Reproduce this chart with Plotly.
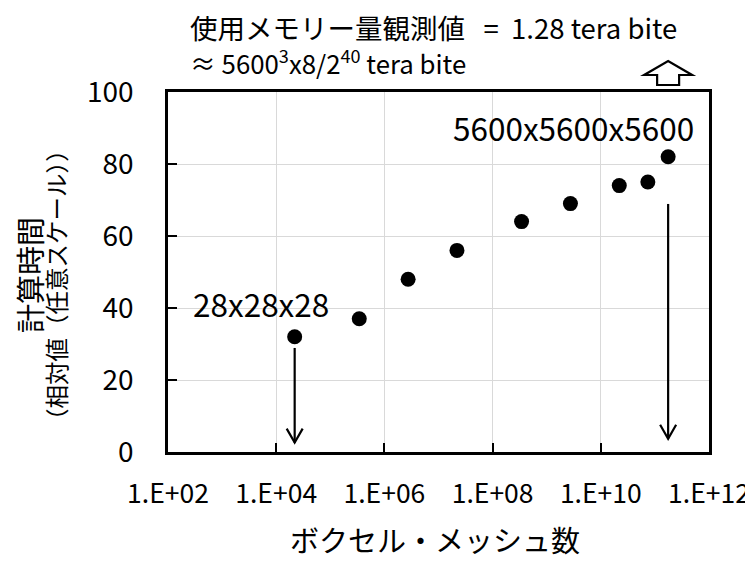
import math
import plotly.graph_objects as go

# ---- data ----
voxel_counts = [21952, 343000, 2744000, 21952000, 343000000,
                2744000000, 21952000000, 74088000000, 175616000000]
calc_time = [32, 37, 48, 56, 64, 69, 74, 75, 82]

x_tickvals = [1e2, 1e4, 1e6, 1e8, 1e10, 1e12]
x_ticktext = ["1.E+02", "1.E+04", "1.E+06", "1.E+08", "1.E+10", "1.E+12"]
y_tickvals = [0, 20, 40, 60, 80, 100]

label_small = "28x28x28"
label_large = "5600x5600x5600"

arrow_x = [21952, 175616000000]
arrow_y_start = [28.9, 68.9]
arrow_y_end = [2.6, 3.7]

FONT = "Noto Sans CJK JP"

fig = go.Figure()
fig.add_trace(go.Scatter(
    x=voxel_counts, y=calc_time, mode="markers",
    marker=dict(size=15, color="black"),
    showlegend=False, hoverinfo="skip", cliponaxis=False))

shapes = []
for ax_, y0, y1 in zip(arrow_x, arrow_y_start, arrow_y_end):
    shapes.append(dict(type="line", xref="x", yref="y", x0=ax_, x1=ax_,
                       y0=y0, y1=y1, line=dict(color="black", width=2.2)))
    shapes.append(dict(type="path", xref="x", yref="y",
                       xsizemode="pixel", ysizemode="pixel",
                       xanchor=ax_, yanchor=y1,
                       path="M-8,14 L0,0 L8,14",
                       line=dict(color="black", width=2.2)))
# hollow up arrow above the plot at the largest mesh
shapes.append(dict(type="path", xref="x", yref="paper",
                   xsizemode="pixel", ysizemode="pixel",
                   xanchor=voxel_counts[-1], yanchor=1,
                   path="M-11,7 L11,7 L11,17 L24,17 L0,31 L-24,17 L-11,17 Z",
                   fillcolor="white", line=dict(color="black", width=2.2),
                   layer="above"))

annotations = [
    dict(xref="paper", yref="paper", x=0, y=1, xanchor="left", yanchor="middle",
         xshift=20, yshift=65, showarrow=False,
         text="使用メモリー量観測値\u00a0\u00a0 = \u00a01.28 tera bite",
         font=dict(family=FONT, size=27.5, color="black")),
    dict(xref="paper", yref="paper", x=0, y=1, xanchor="left", yanchor="middle",
         xshift=20, yshift=31, showarrow=False,
         text="≈ 5600<sup>3</sup>x8/2<sup>40</sup> tera bite",
         font=dict(family=FONT, size=25.8, color="black")),
    dict(xref="x", yref="y", x=math.log10(voxel_counts[0]), y=calc_time[0],
         xanchor="right", yanchor="middle", xshift=36, yshift=34,
         showarrow=False, text=label_small,
         font=dict(family=FONT, size=31.5, color="black")),
    dict(xref="x", yref="y", x=math.log10(voxel_counts[-1]), y=calc_time[-1],
         xanchor="right", yanchor="middle", xshift=28, yshift=30,
         showarrow=False, text=label_large,
         font=dict(family=FONT, size=31.5, color="black")),
    dict(xref="paper", yref="paper", x=0, y=0.5, xanchor="center", yanchor="middle",
         xshift=-139, yshift=-3, showarrow=False, textangle=-90,
         text="計算時間", font=dict(family=FONT, size=29, color="black")),
    dict(xref="paper", yref="paper", x=0, y=0.5, xanchor="center", yanchor="middle",
         xshift=-112, yshift=-13, showarrow=False, textangle=-90,
         text="（相対値（任意スケール））", font=dict(family=FONT, size=23.5, color="black")),
    dict(xref="paper", yref="paper", x=0.5, y=0, xanchor="center", yanchor="middle",
         yshift=-87, xshift=-4, showarrow=False,
         text="ボクセル・メッシュ数", font=dict(family=FONT, size=29, color="black")),
]

# the page body adds an 8px offset, so the figure is shrunk to fit the window
fig.update_layout(
    width=745, height=553,
    margin=dict(l=160, r=44, t=84, b=109),
    paper_bgcolor="white", plot_bgcolor="white",
    font=dict(family=FONT, color="black"),
    shapes=shapes, annotations=annotations,
    xaxis=dict(type="log", range=[1.99999, 12.00001], tickvals=x_tickvals, ticktext=x_ticktext,
               automargin=False,
               showgrid=True, gridcolor="#d9d9d9", gridwidth=1.3,
               showline=True, linecolor="black", linewidth=2.5, mirror=True,
               ticks="inside", ticklen=9, tickwidth=2, tickcolor="black",
               tickfont=dict(family=FONT, size=26.5, color="black"),
               ticklabelstandoff=16, zeroline=False),
    yaxis=dict(range=[0, 100], tickvals=y_tickvals, automargin=False,
               showgrid=True, gridcolor="#d9d9d9", gridwidth=1.3,
               showline=True, linecolor="black", linewidth=2.5, mirror=True,
               ticks="inside", ticklen=9, tickwidth=2, tickcolor="black",
               tickfont=dict(family=FONT, size=28, color="black"),
               ticklabelstandoff=26, zeroline=False),
)

fig.write_html("out.html")
